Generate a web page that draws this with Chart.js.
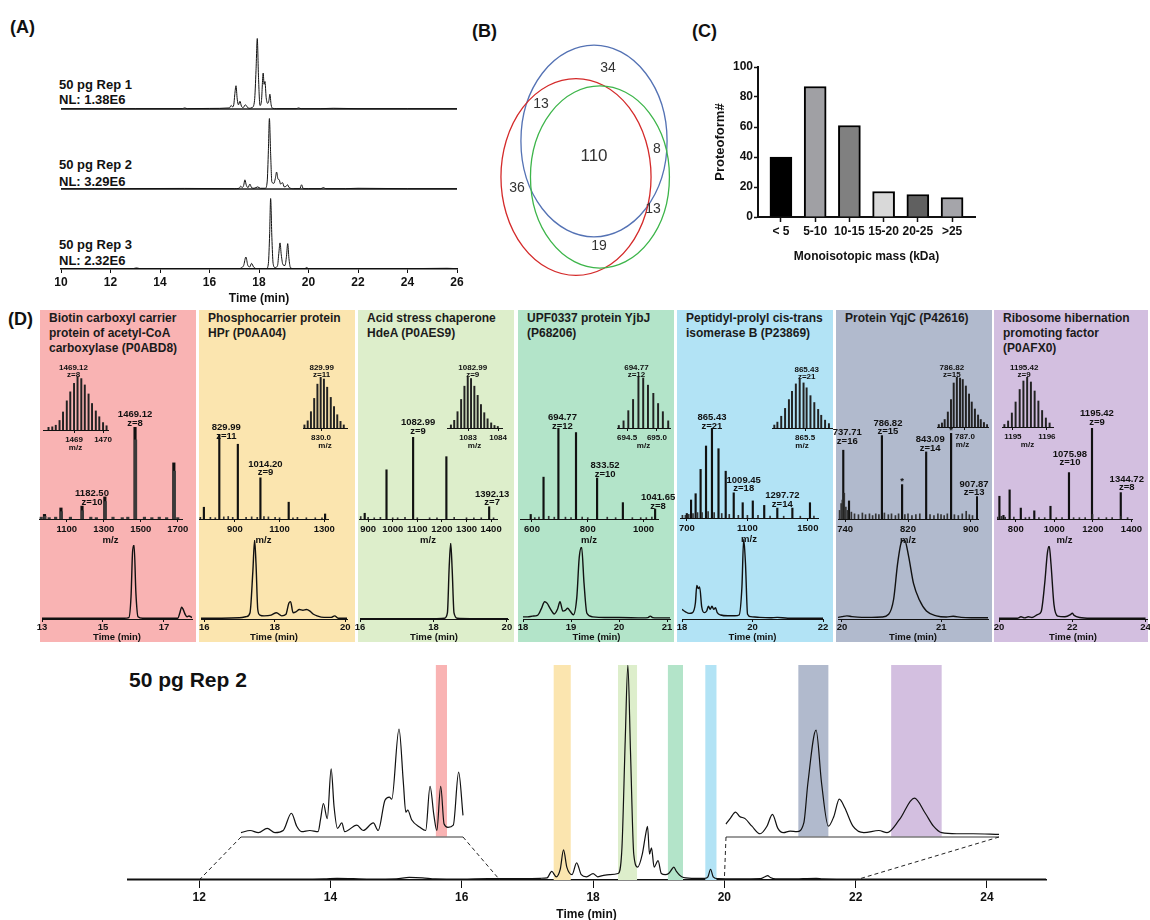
<!DOCTYPE html>
<html>
<head>
<meta charset="utf-8">
<title>Proteoform figure</title>
<script src="https://cdn.jsdelivr.net/npm/chart.js@4.4.1/dist/chart.umd.min.js"></script>
<style>
html,body{margin:0;padding:0;background:#fff;}
body{position:relative;width:1150px;height:920px;overflow:hidden;font-family:'Liberation Sans',Arial,sans-serif;}
</style>
</head>
<body>
<script>
/* ====================== DATA ====================== */
// (A) chromatograms: time (min) / relative intensity (%)
const timeTicksA = [10, 12, 14, 16, 18, 20, 22, 24, 26];
const repNames = ['50 pg Rep 1', '50 pg Rep 2', '50 pg Rep 3'];
const repNL = ['NL: 1.38E6', 'NL: 3.29E6', 'NL: 2.32E6'];
const rep1T = [10, 12, 13, 14.9, 15.0, 15.1, 16.0, 16.8, 16.88, 16.93, 16.98, 17.02, 17.07, 17.12, 17.17, 17.23, 17.29, 17.36, 17.45, 17.52, 17.6, 17.72, 17.82, 17.88, 17.93, 17.98, 18.04, 18.1, 18.17, 18.205, 18.24, 18.29, 18.35, 18.4, 18.44, 18.49, 18.55, 18.7, 19.5, 19.6, 19.7, 20.5, 21, 22, 24, 26];
const rep1I = [0.5, 0.5, 0.5, 0.5, 1.5, 0.5, 0.8, 1.5, 5, 3, 6, 20, 33, 14, 6, 11, 4, 2, 6, 3, 1, 2, 12, 55, 100, 45, 5, 12, 51, 35, 39, 16, 8, 12, 21, 6, 1, 0.5, 0.5, 1.5, 0.5, 0.5, 1, 0.5, 0.5, 0.5];
const rep2T = [10, 12, 15, 17.0, 17.2, 17.26, 17.32, 17.38, 17.43, 17.49, 17.56, 17.63, 17.7, 17.8, 17.95, 18.05, 18.25, 18.33, 18.38, 18.42, 18.47, 18.52, 18.6, 18.66, 18.71, 18.77, 18.82, 18.87, 18.95, 19.02, 19.1, 19.15, 19.22, 19.4, 19.65, 19.72, 19.79, 20.0, 20.5, 20.6, 20.7, 21.5, 22, 24, 26];
const rep2I = [0.5, 0.5, 0.8, 0.5, 1, 4, 2, 5, 13, 5, 2, 7, 2, 1, 3, 1, 1, 10, 55, 100, 50, 10, 8, 15, 24, 14, 13, 7, 9, 3, 4, 6, 2, 0.5, 0.5, 6, 0.5, 0.5, 0.5, 2, 0.5, 0.5, 1, 0.5, 0.5];
const rep3T = [10, 12.9, 13.05, 13.2, 15.0, 17.2, 17.3, 17.38, 17.47, 17.55, 17.63, 17.7, 17.78, 17.9, 18.3, 18.38, 18.43, 18.47, 18.52, 18.57, 18.65, 18.75, 18.8, 18.85, 18.9, 18.97, 19.05, 19.11, 19.16, 19.21, 19.27, 19.4, 19.85, 19.93, 20.0, 20.5, 21, 24, 25.6, 26];
const rep3I = [0.5, 0.5, 1.5, 0.5, 0.7, 0.5, 2, 5, 17, 5, 3, 8, 3, 0.5, 0.5, 8, 50, 100, 45, 8, 2, 5, 22, 37, 20, 6, 5, 18, 36, 15, 2, 0.5, 0.5, 2, 0.5, 0.5, 0.5, 0.5, 1, 0.5];

// (B) Venn region counts
const vennCounts = [34, 13, 110, 8, 36, 13, 19];

// (C) proteoforms per mass bin
const massBins = ['< 5', '5-10', '10-15', '15-20', '20-25', '>25'];
const proteoformCounts = [40, 87, 61, 17, 15, 13];
const yTicksC = [0, 20, 40, 60, 80, 100];

// (D) proteins
const proteinTitles = [
  ['Biotin carboxyl carrier', 'protein of acetyl-CoA', 'carboxylase (P0ABD8)'],
  ['Phosphocarrier protein', 'HPr (P0AA04)'],
  ['Acid stress chaperone', 'HdeA (P0AES9)'],
  ['UPF0337 protein YjbJ', '(P68206)'],
  ['Peptidyl-prolyl cis-trans', 'isomerase B (P23869)'],
  ['Protein YqjC (P42616)'],
  ['Ribosome hibernation', 'promoting factor', '(P0AFX0)']
];
// mass spectra (m/z, relative intensity %)
const ms1Mz = [979.7, 1068.7, 1182.5, 1306.0, 1469.12, 1678.9];
const ms1Int = [5, 12, 14, 24, 100, 61];
const ms1bMz = [962, 981.5, 1005, 1040, 1070.5, 1120, 1184.5, 1230, 1260, 1308, 1350, 1400, 1430, 1472, 1520, 1560, 1600, 1640, 1681.5, 1700];
const ms1bInt = [2, 3, 1.5, 2, 8, 2, 9, 2, 1.5, 19, 2, 1.5, 2, 86, 2, 1.5, 2, 1.5, 52, 1.5];
const ms2Mz = [760.9, 829.99, 913.0, 1014.2, 1140.9, 1304.0];
const ms2Int = [14, 100, 89, 49, 20, 6];
const ms2bMz = [745, 790, 812, 850, 870, 890, 950, 975, 1000, 1030, 1050, 1080, 1100, 1160, 1180, 1220, 1260, 1290];
const ms2bInt = [2, 2, 1.5, 2.5, 3, 2, 2, 2.5, 2, 3, 2.5, 2, 1.5, 1.5, 2, 1.5, 1.5, 1.5];
const ms3Mz = [886.2, 974.8, 1082.99, 1218.2, 1392.13];
const ms3Int = [7, 60, 100, 76, 15];
const ms3bMz = [870, 900, 925, 950, 1000, 1020, 1050, 1100, 1150, 1180, 1250, 1300, 1330, 1360, 1410];
const ms3bInt = [3, 2, 1.5, 2, 1.5, 1.5, 2, 1.5, 1.5, 1.5, 2, 1.5, 1.5, 1.5, 1.5];
const ms4Mz = [595.4, 641.4, 694.77, 757.9, 833.52, 926.0, 1041.65];
const ms4Int = [5, 46, 100, 95, 45, 18, 11];
const ms4bMz = [610, 625, 660, 680, 720, 740, 780, 800, 870, 900, 960, 990, 1010, 1030];
const ms4bInt = [1.5, 2, 3, 2, 2, 1.5, 2, 1.5, 2, 1.5, 1.5, 1.5, 1.5, 2];
const ms5Mz = [699.2, 727.1, 757.4, 790.3, 826.2, 865.43, 908.7, 956.4, 1009.45, 1068.8, 1135.6, 1211.2, 1297.72, 1397.4, 1513.8];
const ms5Int = [5, 20, 27, 54, 80, 100, 77, 52, 28, 17, 19, 14, 11, 11, 17];
const ms5bMz = [670, 690, 712, 740, 770, 800, 840, 880, 930, 980, 1040, 1100, 1170, 1250, 1340, 1450, 1540];
const ms5bInt = [3, 3, 4, 5, 6, 6, 7, 6, 5, 4, 3, 3, 3, 2, 2, 2, 2];
const ms6Mz = [737.71, 745.0, 786.82, 812.5, 843.09, 874.8, 907.87];
const ms6Int = [80, 21, 97, 40, 78, 100, 26];
const ms6bMz = [733, 735, 736.5, 739, 741, 743, 748, 752, 757, 762, 766, 771, 775, 779, 783, 790, 795, 799, 804, 808, 816, 820, 825, 830, 835, 848, 853, 858, 862, 866, 870, 879, 884, 889, 894, 898, 902];
const ms6bInt = [10, 18, 22, 30, 14, 10, 8, 6, 5, 7, 5, 6, 4, 6, 5, 7, 5, 6, 4, 6, 5, 6, 4, 5, 6, 5, 4, 6, 5, 4, 6, 5, 4, 6, 9, 5, 4];
const ms7Mz = [715, 736, 768, 826, 896, 980, 1075.98, 1195.42, 1344.72];
const ms7Int = [25, 4, 32, 12, 9, 14, 51, 100, 29];
const ms7bMz = [705, 725, 745, 790, 850, 870, 920, 950, 1010, 1040, 1100, 1130, 1160, 1198, 1230, 1270, 1300, 1347, 1380];
const ms7bInt = [2, 3, 2, 2, 1.5, 2, 1.5, 1.5, 1.5, 1.5, 1.5, 1.5, 1.5, 5, 1.5, 1.5, 1.5, 3, 1.5];
// labelled peaks [m/z, text lines...]
const msLabels1 = [[1469.12, '1469.12', 'z=8'], [1182.5, '1182.50', 'z=10']];
const msLabels2 = [[829.99, '829.99', 'z=11'], [1014.2, '1014.20', 'z=9']];
const msLabels3 = [[1082.99, '1082.99', 'z=9'], [1392.13, '1392.13', 'z=7']];
const msLabels4 = [[694.77, '694.77', 'z=12'], [833.52, '833.52', 'z=10'], [1041.65, '1041.65', 'z=8']];
const msLabels5 = [[865.43, '865.43', 'z=21'], [1009.45, '1009.45', 'z=18'], [1297.72, '1297.72', 'z=14']];
const msLabels6 = [[737.71, '737.71', 'z=16'], [786.82, '786.82', 'z=15'], [843.09, '843.09', 'z=14'], [907.87, '907.87', 'z=13'], [812.5, '*'], [874.8, '*']];
const msLabels7 = [[1195.42, '1195.42', 'z=9'], [1075.98, '1075.98', 'z=10'], [1344.72, '1344.72', 'z=8']];
const msTicks1 = ['1100', '1300', '1500', '1700'];
const msTicks2 = ['900', '1100', '1300'];
const msTicks3 = ['900', '1000', '1100', '1200', '1300', '1400'];
const msTicks4 = ['600', '800', '1000'];
const msTicks5 = ['700', '1100', '1500'];
const msTicks6 = ['740', '820', '900'];
const msTicks7 = ['800', '1000', '1200', '1400'];
// isotope envelopes
const iso1Mz = [1468.12, 1468.25, 1468.37, 1468.5, 1468.62, 1468.75, 1468.87, 1469.0, 1469.12, 1469.25, 1469.37, 1469.5, 1469.62, 1469.75, 1469.87, 1470.0, 1470.12];
const iso1Int = [5, 6, 9, 18, 34, 55, 72, 88, 100, 97, 85, 68, 50, 36, 25, 14, 8];
const iso2Mz = [829.54, 829.63, 829.72, 829.81, 829.90, 829.99, 830.08, 830.17, 830.27, 830.36, 830.45, 830.54, 830.63];
const iso2Int = [6, 14, 32, 58, 86, 100, 96, 80, 60, 42, 26, 13, 6];
const iso3Mz = [1082.43, 1082.54, 1082.65, 1082.77, 1082.88, 1082.99, 1083.10, 1083.21, 1083.32, 1083.43, 1083.54, 1083.65, 1083.77, 1083.88, 1083.99];
const iso3Int = [6, 15, 32, 56, 82, 100, 97, 82, 64, 46, 30, 18, 10, 5, 3];
const iso4Mz = [694.36, 694.44, 694.52, 694.60, 694.69, 694.77, 694.85, 694.94, 695.02, 695.10, 695.19];
const iso4Int = [5, 14, 34, 56, 100, 98, 84, 68, 48, 32, 14];
const iso5Mz = [865.10, 865.14, 865.19, 865.24, 865.29, 865.33, 865.38, 865.43, 865.48, 865.52, 865.57, 865.62, 865.67, 865.71, 865.76, 865.81];
const iso5Int = [6, 12, 24, 40, 58, 75, 90, 100, 92, 82, 66, 52, 38, 26, 16, 9];
const iso6Mz = [786.42, 786.49, 786.55, 786.62, 786.69, 786.75, 786.82, 786.89, 786.95, 787.02, 787.09, 787.15, 787.22, 787.29, 787.35, 787.42, 787.49];
const iso6Int = [5, 8, 15, 30, 55, 88, 100, 98, 95, 82, 66, 50, 36, 24, 15, 9, 5];
const iso7Mz = [1194.75, 1194.86, 1194.97, 1195.08, 1195.20, 1195.31, 1195.42, 1195.53, 1195.64, 1195.75, 1195.86, 1195.97, 1196.08];
const iso7Int = [5, 12, 28, 50, 75, 92, 100, 90, 72, 52, 33, 18, 8];
const isoLabels = [['1469.12', 'z=8'], ['829.99', 'z=11'], ['1082.99', 'z=9'], ['694.77', 'z=12'], ['865.43', 'z=21'], ['786.82', 'z=15'], ['1195.42', 'z=9']];
const isoTicks1 = ['1469', '1470'];
const isoTicks2 = ['830.0'];
const isoTicks3 = ['1083', '1084'];
const isoTicks4 = ['694.5', '695.0'];
const isoTicks5 = ['865.5'];
const isoTicks6 = ['787.0'];
const isoTicks7 = ['1195', '1196'];
// extracted ion chromatograms
const chrom1T = [13.0, 14.0, 15.0, 15.7, 15.85, 15.92, 15.97, 16.02, 16.08, 16.15, 16.3, 17.0, 17.45, 17.52, 17.58, 17.63, 17.7, 17.76, 17.82, 17.92];
const chrom1I = [1, 1, 1, 1, 2, 30, 90, 100, 35, 3, 1, 1, 1, 8, 16, 13, 6, 3, 4, 2];
const chrom2T = [15.91, 16.5, 17.0, 17.2, 17.3, 17.38, 17.43, 17.47, 17.52, 17.58, 17.7, 17.9, 18.05, 18.2, 18.32, 18.4, 18.45, 18.52, 18.6, 18.7, 18.8, 18.9, 19.0, 19.1, 19.2, 19.4, 19.6, 19.7, 19.8, 20.05];
const chrom2I = [1, 1, 1.5, 3, 8, 60, 100, 70, 12, 5, 4, 5, 8, 4, 6, 20, 22, 8, 9, 12, 11, 12, 10, 6, 4, 2, 2, 4, 1, 1];
const chrom3T = [16, 17, 18, 18.3, 18.38, 18.43, 18.47, 18.51, 18.56, 18.65, 19, 20.03];
const chrom3I = [0.5, 0.5, 0.5, 1, 8, 70, 100, 65, 8, 1, 0.5, 0.5];
const chrom4T = [18, 18.1, 18.2, 18.3, 18.38, 18.45, 18.5, 18.57, 18.65, 18.72, 18.77, 18.83, 18.88, 18.93, 18.98, 19.05, 19.12, 19.17, 19.22, 19.27, 19.33, 19.45, 19.7, 20, 20.5, 20.6, 20.65, 20.7, 20.8, 21.06];
const chrom4I = [3, 3, 4, 5, 14, 24, 22, 14, 7, 14, 24, 11, 12, 15, 11, 6, 30, 85, 100, 50, 8, 3, 2, 2, 1.5, 2, 4, 2, 1.5, 1.5];
const chrom5T = [18, 18.1, 18.2, 18.3, 18.38, 18.42, 18.46, 18.5, 18.56, 18.63, 18.7, 18.75, 18.8, 18.85, 18.9, 18.95, 19.0, 19.1, 19.3, 19.5, 19.62, 19.7, 19.75, 19.8, 19.86, 19.95, 20.2, 20.5, 20.7, 21, 22];
const chrom5I = [12, 9, 7, 8, 20, 42, 38, 40, 15, 8, 10, 16, 12, 16, 12, 14, 8, 5, 4, 4, 5, 40, 100, 70, 6, 3, 2, 1.5, 2, 1, 1];
const chrom6T = [19.96, 20.0, 20.05, 20.1, 20.2, 20.3, 20.4, 20.47, 20.52, 20.56, 20.6, 20.63, 20.67, 20.72, 20.78, 20.85, 20.95, 21.05, 21.12, 21.2, 21.3, 21.47];
const chrom6I = [2, 3, 4, 3, 2, 2, 2.5, 6, 25, 70, 98, 100, 80, 45, 24, 10, 4, 2.5, 3.5, 2, 1.5, 1.5];
const chrom7T = [20, 20.5, 20.6, 20.7, 20.8, 20.9, 21.05, 21.15, 21.25, 21.32, 21.37, 21.42, 21.5, 21.6, 21.8, 21.95, 22.0, 22.05, 22.2, 22.5, 23, 24];
const chrom7I = [1, 1, 3, 1.5, 3, 2, 6, 10, 50, 90, 100, 75, 20, 4, 3, 6, 8, 5, 2, 1, 1, 1];
const chromTicks1 = ['13', '15', '17'];
const chromTicks2 = ['16', '18', '20'];
const chromTicks3 = ['16', '18', '20'];
const chromTicks4 = ['18', '19', '20', '21'];
const chromTicks5 = ['18', '20', '22'];
const chromTicks6 = ['20', '21'];
const chromTicks7 = ['20', '22', '24'];

// bottom: 50 pg Rep 2 full chromatogram + zoomed insets
const mainTicks = [12, 14, 16, 18, 20, 22, 24];
const mainT = [10.9, 12.0, 13.0, 13.5, 13.9, 14.1, 14.6, 15.0, 15.2, 15.4, 15.6, 16.0, 16.4, 16.9, 17.2, 17.3, 17.37, 17.44, 17.5, 17.55, 17.6, 17.68, 17.75, 17.82, 17.9, 18.0, 18.07, 18.14, 18.25, 18.38, 18.44, 18.49, 18.53, 18.57, 18.62, 18.68, 18.75, 18.8, 18.83, 18.86, 18.89, 18.93, 18.99, 19.04, 19.1, 19.15, 19.2, 19.23, 19.27, 19.35, 19.5, 19.7, 19.75, 19.79, 19.83, 19.9, 20.2, 20.55, 20.62, 20.66, 20.7, 20.78, 21.0, 21.4, 21.5, 22.0, 23.0, 24.0, 24.9];
const mainI = [0.4, 0.4, 0.4, 0.4, 0.5, 0.8, 0.4, 0.5, 1.2, 1.0, 0.5, 0.4, 0.6, 0.6, 0.8, 1, 4, 1.5, 5, 14, 6, 2.5, 8, 2.5, 1.5, 3, 1.5, 2, 2.5, 3, 15, 65, 100, 60, 12, 6, 12, 21, 25, 12, 15, 6, 9, 3, 2.5, 3, 5, 6, 4, 1.5, 0.8, 0.8, 1.5, 5, 1.5, 0.6, 0.5, 0.6, 1.5, 2, 1.2, 0.5, 0.5, 0.8, 0.5, 0.4, 0.4, 0.4, 0.4];
const insetLT = [12.0, 12.19, 12.36, 12.54, 12.7, 12.87, 13.04, 13.15, 13.25, 13.42, 13.59, 13.64, 13.7, 13.78, 13.86, 13.92, 13.99, 14.08, 14.14, 14.39, 14.52, 14.73, 14.83, 14.97, 15.06, 15.11, 15.26, 15.35, 15.4, 15.44, 15.52, 15.69, 15.81, 15.9, 15.98, 16.04, 16.12, 16.19, 16.27, 16.38, 16.49, 16.58];
const insetLI = [4, 6, 4, 8, 4, 6, 22, 10, 5, 6, 5, 16, 31, 17, 63, 28, 8, 13, 5, 11, 6, 13, 6, 34, 37, 35, 100, 50, 23, 25, 16, 9, 6, 47, 20, 6, 47, 12, 9, 11, 60, 20];
const insetRT = [20.0, 20.03, 20.07, 20.1, 20.14, 20.19, 20.25, 20.3, 20.34, 20.38, 20.42, 20.47, 20.52, 20.57, 20.6, 20.66, 20.7, 20.75, 20.79, 20.83, 20.87, 20.93, 21.01, 21.12, 21.18, 21.27, 21.38, 21.46, 21.52, 21.58, 21.69, 21.81, 22.0];
const insetRI = [12, 17, 23, 19, 17, 10, 3, 10, 21, 8, 4, 5.5, 5, 13, 50, 99, 50, 10, 19, 35, 27, 10, 4, 6, 4, 16, 36, 22, 10, 4, 3, 3, 2.5];
const insetRanges = [[12, 16.58], [20, 22]];
// highlighted elution windows (min): [axis, from, to, protein index]
const elutionBands = [['xL', 16.02, 16.25, 0], ['x', 17.40, 17.66, 1], ['x', 18.38, 18.67, 2], ['x', 19.14, 19.37, 3], ['x', 19.71, 19.88, 4], ['xR', 20.53, 20.75, 5], ['xR', 21.21, 21.58, 6]];

/* ====================== STYLE / LAYOUT ====================== */
const FONT = "'Liberation Sans', Arial, sans-serif";
const FONTN = "'Liberation Sans Narrow', 'Arial Narrow', 'Liberation Sans', sans-serif";
Chart.defaults.font.family = FONT;
Chart.defaults.color = '#111';
const panelColors = ['#f9b3b3', '#fbe5af', '#ddeecb', '#b3e4c9', '#b2e3f5', '#b1bacd', '#d3bfe0'];
const panelLeft = [40, 199, 358, 518, 677, 836, 994];
const msArea = [[39, 427, 143, 92], [199, 435, 129, 84], [359, 437, 138, 82], [520, 428, 138, 91], [680, 428, 138, 90], [838, 433, 140, 86], [997, 428, 135, 91]];
const msRange = [[950, 1723], [739, 1317], [863, 1424], [557, 1052], [654, 1567], [731, 909], [702.5, 1403]];
const msLabelOff = [[[0, -4], [10, -4]], [[7, 1], [5, -5]], [[5, -6], [3, -4]], [[4, -2], [8, -4], [3, -3]], [[0, -2], [10, -4], [5, -4]], [[4, -9], [6, -4], [4, -4], [-3, -4], [0, -3], [0, -3]], [[5, -6], [1, -10], [6, -5]]];
const isoArea = [[43, 377, 65, 53], [303, 377, 44, 51], [447, 377, 55, 51], [617, 377, 53, 51], [772, 379, 60, 49], [937, 377, 51, 50], [1002, 377, 51, 50]];
const isoRange = [[1467.93, 1470.17], [829.5, 830.72], [1082.3, 1084.13], [694.33, 695.22], [865.07, 865.85], [786.38, 787.51], [1194.68, 1196.18]];
const isoLabelDx = [-4, 1, 5, -2, 7, -5, -3];
const chromArea = [[42, 545, 150, 74], [201, 540, 146, 79], [360, 543, 148, 76], [523, 547, 147, 72], [682, 539, 141, 80], [838, 540, 150, 79], [999, 546, 148, 73]];
const chromRange = [[13.0, 17.92], [15.91, 20.05], [16, 20.03], [18, 21.06], [18, 22], [19.96, 21.47], [20, 24.04]];

/* ====================== HELPERS ====================== */
const pairs = (xs, ys) => xs.map((x, i) => ({ x: x, y: ys[i] }));

function text(str, left, cy, size, opt) {
  opt = opt || {};
  const d = document.createElement('div');
  d.textContent = str;
  Object.assign(d.style, {
    position: 'absolute', left: left + 'px', top: (cy - size * 0.6) + 'px', fontSize: size + 'px',
    lineHeight: (size * 1.2) + 'px', fontWeight: opt.weight || 'bold', fontFamily: opt.family || FONT,
    color: opt.color || '#111', whiteSpace: 'nowrap'
  });
  document.body.appendChild(d);
}
function box(left, top, w, h, color) {
  const d = document.createElement('div');
  Object.assign(d.style, { position: 'absolute', left: left + 'px', top: top + 'px', width: w + 'px', height: h + 'px', background: color });
  document.body.appendChild(d);
}
function mk(area, pad, cfg) {
  const [ax, ay, aw, ah] = area, [pl, pt, pr, pb] = pad;
  const W = Math.round(aw + pl + pr), H = Math.round(ah + pt + pb);
  const c = document.createElement('canvas');
  c.width = W; c.height = H;
  Object.assign(c.style, { position: 'absolute', left: (ax - pl) + 'px', top: (ay - pt) + 'px', width: W + 'px', height: H + 'px' });
  document.body.appendChild(c);
  const o = cfg.options;
  let xh = 0, yw = 0;
  Object.keys(o.scales).forEach(id => {
    const s = o.scales[id];
    if (s.display === false) return;
    if ((s.axis || id[0]) === 'x') { xh = pb; s.afterFit = sc => { sc.height = pb; }; }
    else { yw = pl; s.afterFit = sc => { sc.width = pl; }; }
  });
  o.responsive = false; o.maintainAspectRatio = false; o.animation = false; o.devicePixelRatio = 1; o.events = [];
  o.layout = { autoPadding: false, padding: { left: pl - yw, right: pr, top: pt, bottom: pb - xh } };
  o.plugins = Object.assign({ legend: { display: false }, tooltip: { enabled: false } }, o.plugins || {});
  return new Chart(c.getContext('2d'), cfg);
}
function xAxis(min, max, ticks, o) {
  return {
    type: 'linear', axis: 'x', position: 'bottom', min: min, max: max, offset: false,
    afterBuildTicks: sc => { sc.ticks = ticks.map(t => ({ value: +t })); },
    ticks: {
      autoSkip: false, maxRotation: 0, minRotation: 0, padding: o.pad, color: '#111',
      font: { family: o.family || FONT, size: o.size, weight: 'bold' },
      callback: v => { const t = ticks.find(t => +t === v); return t === undefined ? '' : (o.names ? o.names[+t] : String(t)); }
    },
    grid: { display: true, drawOnChartArea: false, drawTicks: true, tickLength: o.tl, tickColor: '#111', tickWidth: o.tw || 1, offset: false },
    border: { display: true, color: '#111', width: o.bw || 1 },
    title: o.title ? { display: true, text: o.title, padding: 0, color: '#111', font: { family: o.family || FONT, size: o.tsize || o.size, weight: 'bold' } } : { display: false }
  };
}
const hiddenY = (min, max) => ({ type: 'linear', axis: 'y', display: false, min: min, max: max });
function lineDs(data, extra) {
  return Object.assign({ data: data, borderColor: '#111', borderWidth: 1, pointRadius: 0, fill: false, cubicInterpolationMode: 'monotone' }, extra || {});
}
function peakText(items, font, gap) {
  return {
    id: 'peakText',
    afterDatasetsDraw(chart) {
      const ctx = chart.ctx, x = chart.scales.x, y = chart.scales.y;
      ctx.save(); ctx.font = font; ctx.fillStyle = '#111'; ctx.textAlign = 'center'; ctx.textBaseline = 'middle';
      items.forEach(it => {
        const px = x.getPixelForValue(it.x) + it.dx, yb = y.getPixelForValue(it.y) + it.dy;
        for (let j = it.lines.length - 1, k = 0; j >= 0; j--, k++) ctx.fillText(it.lines[j], px, yb - k * gap);
      });
      ctx.restore();
    }
  };
}

/* ====================== PANEL D BACKGROUNDS ====================== */
panelColors.forEach((c, k) => box(panelLeft[k], 310, k === 6 ? 154 : 156, 332, c));

/* ====================== TEXT ====================== */
text('(A)', 10, 28, 18); text('(B)', 472, 32, 18); text('(C)', 692, 32, 18); text('(D)', 8, 320, 18);
const repLabelY = [[85, 100], [165, 182], [245, 261]];
repNames.forEach((n, k) => { text(n, 59, repLabelY[k][0], 13); text(repNL[k], 59, repLabelY[k][1], 13); });
proteinTitles.forEach((lines, k) => lines.forEach((ln, j) => text(ln, panelLeft[k] + 9, 318 + 15 * j, 12, { color: '#1b1b1b' })));
text('50 pg Rep 2', 129, 680, 21);

/* ====================== (A) ====================== */
(function () {
  const area = [61, 38, 396, 231], k = 0.705, bottom = area[1] + area[3];
  const yAx = b => { const mn = -(bottom - b) / k; return hiddenY(mn, mn + area[3] / k); };
  const baselines = {
    id: 'baselines',
    beforeDatasetsDraw(chart) {
      const ctx = chart.ctx, a = chart.chartArea;
      ctx.save(); ctx.strokeStyle = '#555'; ctx.lineWidth = 2;
      ['y1', 'y2'].forEach(id => { const y = chart.scales[id].getPixelForValue(0); ctx.beginPath(); ctx.moveTo(a.left, y); ctx.lineTo(a.right, y); ctx.stroke(); });
      ctx.restore();
    }
  };
  mk(area, [21, 8, 15, 37], {
    type: 'line',
    data: { datasets: [lineDs(pairs(rep1T, rep1I), { yAxisID: 'y1' }), lineDs(pairs(rep2T, rep2I), { yAxisID: 'y2' }), lineDs(pairs(rep3T, rep3I), { yAxisID: 'y3' })] },
    options: { scales: { x: xAxis(10, 26, timeTicksA, { size: 12, tl: 4, pad: 2, title: 'Time (min)', bw: 1.5 }), y1: yAx(109), y2: yAx(189), y3: yAx(269) } },
    plugins: [baselines]
  });
})();

/* ====================== (B) Venn ====================== */
(function () {
  // ellipse geometry in chart units (layout)
  const circles = [{ cx: 55.0, cy: 58.05, r: 40.6, color: '#5472b4' }, { cx: 45.0, cy: 42.8, r: 41.7, color: '#d42a2a' }, { cx: 58.3, cy: 42.8, r: 38.6, color: '#3db54a' }];
  const labelPos = [[62.8, 89.0], [25.6, 73.7], [55.0, 51.7], [90.0, 54.7], [12.2, 38.1], [87.8, 29.2], [57.8, 13.6]];
  const venn = {
    id: 'venn',
    afterDatasetsDraw(chart) {
      const ctx = chart.ctx, x = chart.scales.x, y = chart.scales.y;
      ctx.save();
      circles.forEach(c => {
        const px = x.getPixelForValue(c.cx), py = y.getPixelForValue(c.cy);
        const rx = x.getPixelForValue(c.cx + c.r) - px, ry = py - y.getPixelForValue(c.cy + c.r);
        ctx.beginPath(); ctx.ellipse(px, py, rx, ry, 0, 0, Math.PI * 2); ctx.strokeStyle = c.color; ctx.lineWidth = 1.3; ctx.stroke();
      });
      const meta = chart.getDatasetMeta(0);
      ctx.fillStyle = '#333'; ctx.textAlign = 'center'; ctx.textBaseline = 'middle';
      meta.data.forEach((pt, i) => { ctx.font = (vennCounts[i] >= 100 ? '17px ' : '14px ') + FONT; ctx.fillText(String(vennCounts[i]), pt.x, pt.y); });
      ctx.restore();
    }
  };
  mk([495, 42, 180, 236], [0, 0, 0, 0], {
    type: 'scatter',
    data: { datasets: [{ data: labelPos.map(p => ({ x: p[0], y: p[1] })), pointRadius: 0 }] },
    options: { scales: { x: { type: 'linear', display: false, min: 0, max: 100 }, y: { type: 'linear', display: false, min: 0, max: 100 } } },
    plugins: [venn]
  });
})();

/* ====================== (C) bars ====================== */
mk([758, 67, 217, 150], [45, 10, 12, 47], {
  type: 'bar',
  data: { datasets: [{ data: proteoformCounts.map((v, i) => ({ x: i, y: v })), backgroundColor: ['#000000', '#a0a0a4', '#808080', '#d9d9d9', '#606060', '#a5a5aa'], borderColor: '#000', borderWidth: 2, barThickness: 22, grouped: false }] },
  options: {
    scales: {
      x: xAxis(-0.67, 5.67, [0, 1, 2, 3, 4, 5], { size: 12, tl: 5, pad: 2, title: 'Monoisotopic mass (kDa)', family: FONTN, names: massBins, bw: 2, tw: 1.5 }),
      y: {
        type: 'linear', axis: 'y', position: 'left', min: 0, max: 100,
        afterBuildTicks: sc => { sc.ticks = yTicksC.map(v => ({ value: v })); },
        ticks: { padding: 1, color: '#111', font: { family: FONTN, size: 12, weight: 'bold' } },
        grid: { drawOnChartArea: false, drawTicks: true, tickLength: 4, tickColor: '#111', tickWidth: 1.5 },
        border: { display: true, color: '#111', width: 2 },
        title: { display: true, text: 'Proteoform#', padding: 0, color: '#111', font: { family: FONTN, size: 13, weight: 'bold' } }
      }
    }
  }
});

/* ====================== (D) panels ====================== */
const MS = [
  [ms1Mz, ms1Int, ms1bMz, ms1bInt, msTicks1, msLabels1], [ms2Mz, ms2Int, ms2bMz, ms2bInt, msTicks2, msLabels2],
  [ms3Mz, ms3Int, ms3bMz, ms3bInt, msTicks3, msLabels3], [ms4Mz, ms4Int, ms4bMz, ms4bInt, msTicks4, msLabels4],
  [ms5Mz, ms5Int, ms5bMz, ms5bInt, msTicks5, msLabels5], [ms6Mz, ms6Int, ms6bMz, ms6bInt, msTicks6, msLabels6],
  [ms7Mz, ms7Int, ms7bMz, ms7bInt, msTicks7, msLabels7]
];
const ISO = [[iso1Mz, iso1Int, isoTicks1], [iso2Mz, iso2Int, isoTicks2], [iso3Mz, iso3Int, isoTicks3], [iso4Mz, iso4Int, isoTicks4], [iso5Mz, iso5Int, isoTicks5], [iso6Mz, iso6Int, isoTicks6], [iso7Mz, iso7Int, isoTicks7]];
const CHROM = [[chrom1T, chrom1I, chromTicks1], [chrom2T, chrom2I, chromTicks2], [chrom3T, chrom3I, chromTicks3], [chrom4T, chrom4I, chromTicks4], [chrom5T, chrom5I, chromTicks5], [chrom6T, chrom6I, chromTicks6], [chrom7T, chrom7I, chromTicks7]];

for (let k = 0; k < 7; k++) {
  const [mz, it, nmz, nit, tks, labs] = MS[k];
  const items = labs.map((lab, j) => {
    const idx = mz.indexOf(lab[0]);
    return { x: lab[0], y: idx >= 0 ? it[idx] : 0, lines: lab.slice(1), dx: msLabelOff[k][j][0], dy: msLabelOff[k][j][1] };
  });
  mk(msArea[k], [12, 26, 24, 27], {
    type: 'bar',
    data: {
      datasets: [
        { data: pairs(nmz, nit), backgroundColor: k === 0 ? '#3a3a3a' : '#333', barThickness: k === 0 ? 2.5 : 1, grouped: false },
        { data: pairs(mz, it), backgroundColor: '#111', barThickness: k === 0 ? 2.5 : 1.5, grouped: false }
      ]
    },
    options: { scales: { x: xAxis(msRange[k][0], msRange[k][1], tks, { size: 9.5, tl: 3, pad: 2, title: 'm/z' }), y: hiddenY(0, 100) } },
    plugins: [peakText(items, 'bold 9.5px ' + FONT, 8.5)]
  });

  const [imz, iint, itks] = ISO[k];
  const apex = imz[iint.indexOf(Math.max.apply(null, iint))];
  mk(isoArea[k], [10, 20, 12, 23], {
    type: 'bar',
    data: { datasets: [{ data: pairs(imz, iint), backgroundColor: '#222', barThickness: 1.3, grouped: false }] },
    options: { scales: { x: xAxis(isoRange[k][0], isoRange[k][1], itks, { size: 8, tl: 3, pad: 2, title: 'm/z' }), y: hiddenY(0, 100) } },
    plugins: [peakText([{ x: apex, y: 100, lines: isoLabels[k], dx: isoLabelDx[k], dy: -2 }], 'bold 8px ' + FONT, 7)]
  });

  const [ct, ci, ctks] = CHROM[k];
  mk(chromArea[k], [10, 4, 12, 24], {
    type: 'line',
    data: { datasets: [lineDs(pairs(ct, ci), { borderWidth: 1.4 })] },
    options: { scales: { x: xAxis(chromRange[k][0], chromRange[k][1], ctks, { size: 9.5, tl: 3, pad: 0, title: 'Time (min)' }), y: hiddenY(0, 100) } }
  });
}

/* ====================== bottom: 50 pg Rep 2 ====================== */
(function () {
  const area = [127, 665, 919, 215];
  const insetPx = [[241, 463], [726, 999]];      // horizontal placement of the two zoom insets
  const insetBase = 837, insetTop = 729;          // inset 0 % and 100 % lines
  const insetAxis = (rng, px) => {
    const k = (px[1] - px[0]) / (rng[1] - rng[0]);
    return { type: 'linear', axis: 'x', display: false, min: rng[0] - (px[0] - area[0]) / k, max: rng[0] + (area[0] + area[2] - px[0]) / k };
  };
  const kI = (insetBase - insetTop) / 100, yImin = -(area[1] + area[3] - insetBase) / kI;
  const decor = {
    id: 'decor',
    beforeDatasetsDraw(chart) {
      const ctx = chart.ctx, a = chart.chartArea, s = chart.scales;
      ctx.save();
      elutionBands.forEach(b => {
        const xs = s[b[0]], x0 = xs.getPixelForValue(b[1]), x1 = xs.getPixelForValue(b[2]);
        const yb = b[0] === 'x' ? s.y.getPixelForValue(0) : s.yI.getPixelForValue(0);
        ctx.fillStyle = panelColors[b[3]]; ctx.fillRect(x0, a.top, x1 - x0, yb - a.top);
      });
      [['xL', insetRanges[0]], ['xR', insetRanges[1]]].forEach(([id, r]) => {
        const l = s[id].getPixelForValue(r[0]), rr = s[id].getPixelForValue(r[1]), yb = s.yI.getPixelForValue(0);
        const ml = s.x.getPixelForValue(r[0]), mr = s.x.getPixelForValue(r[1]), my = s.y.getPixelForValue(0);
        ctx.setLineDash([]); ctx.strokeStyle = '#7a7a7a'; ctx.lineWidth = 1.6;
        ctx.beginPath(); ctx.moveTo(l, yb); ctx.lineTo(rr, yb); ctx.stroke();
        ctx.setLineDash([4, 3]); ctx.strokeStyle = '#222'; ctx.lineWidth = 1;
        ctx.beginPath(); ctx.moveTo(l, yb); ctx.lineTo(ml, my); ctx.moveTo(rr, yb); ctx.lineTo(mr, my); ctx.stroke();
      });
      ctx.restore();
    }
  };
  mk(area, [0, 5, 4, 42], {
    type: 'line',
    data: {
      datasets: [
        lineDs(pairs(mainT, mainI), { xAxisID: 'x', yAxisID: 'y', borderWidth: 1.2 }),
        lineDs(pairs(insetLT, insetLI), { xAxisID: 'xL', yAxisID: 'yI', borderWidth: 1.2 }),
        lineDs(pairs(insetRT, insetRI), { xAxisID: 'xR', yAxisID: 'yI', borderWidth: 1.2 })
      ]
    },
    options: {
      scales: {
        x: xAxis(10.9, 24.9, mainTicks, { size: 12, tl: 8, pad: 2, title: 'Time (min)', bw: 1.5 }),
        y: hiddenY(0, 100),
        xL: insetAxis(insetRanges[0], insetPx[0]),
        xR: insetAxis(insetRanges[1], insetPx[1]),
        yI: hiddenY(yImin, yImin + area[3] / kI)
      }
    },
    plugins: [decor]
  });
})();
</script>
</body>
</html>
